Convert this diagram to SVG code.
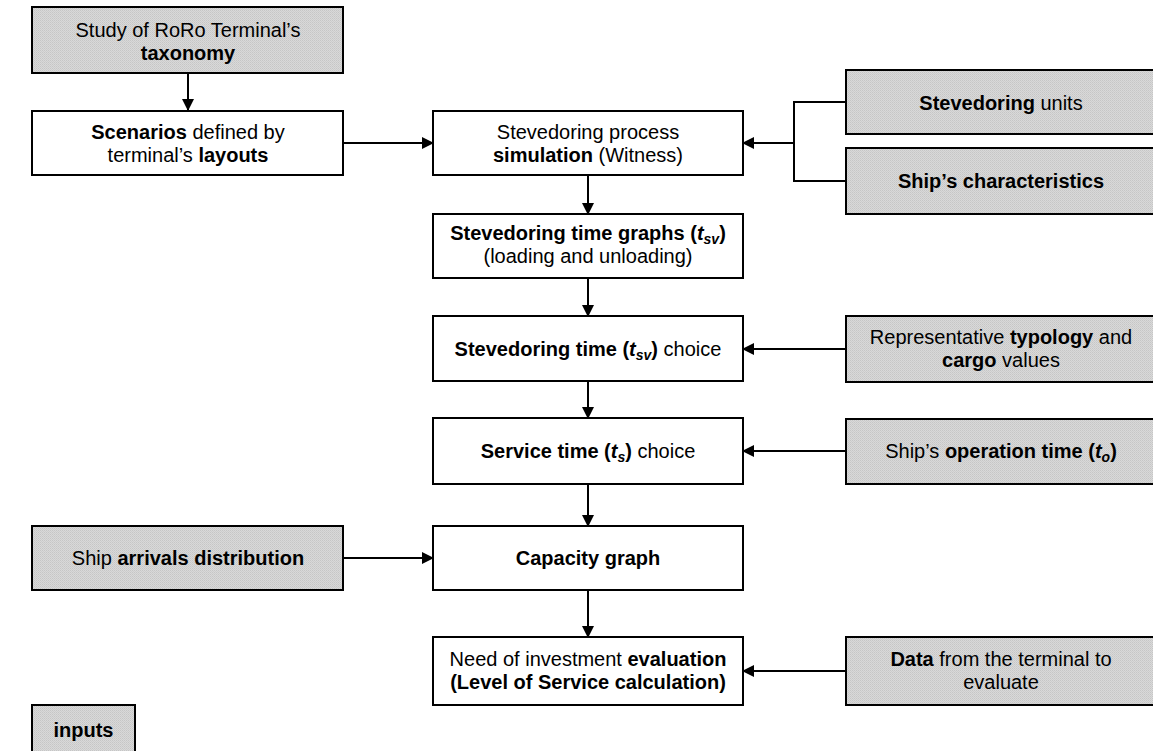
<svg xmlns="http://www.w3.org/2000/svg" width="1153" height="751" viewBox="0 0 1153 751">
  <defs>
    <!-- fine stipple used for the input boxes -->
    <pattern id="stipple" width="2" height="2" patternUnits="userSpaceOnUse">
      <rect width="2" height="2" fill="#d9d9d9"/>
      <rect width="1" height="1" fill="#c6c6c6"/>
      <rect x="1" y="1" width="1" height="1" fill="#cdcdcd"/>
    </pattern>
    <marker id="arrow" viewBox="0 0 12 12" refX="11" refY="6" markerWidth="12" markerHeight="12" markerUnits="userSpaceOnUse" orient="auto">
      <path d="M0,0 L12,6 L0,12 z" fill="#000"/>
    </marker>
  </defs>
  <style>
    .box { fill: #fff; stroke: #000; stroke-width: 2; }
    .input { fill: url(#stipple); stroke: #000; stroke-width: 2; }
    text { font-family: "Liberation Sans", Arial, sans-serif; font-size: 20px; fill: #000; text-anchor: middle; }
    .b { font-weight: bold; }
    .bi { font-weight: bold; font-style: italic; }
    .sub { font-weight: bold; font-style: italic; font-size: 14px; }
    .conn { fill: none; stroke: #000; stroke-width: 2; }
    .conn-arrow { fill: none; stroke: #000; stroke-width: 2; marker-end: url(#arrow); }
  </style>

  <rect width="1153" height="751" fill="#fff"/>

  <!-- connectors -->
  <g id="connectors">
    <line class="conn-arrow" x1="188" y1="73" x2="188" y2="110"/>
    <line class="conn-arrow" x1="343" y1="143" x2="433" y2="143"/>
    <polyline class="conn" points="846,102 794,102 794,181 846,181"/>
    <line class="conn-arrow" x1="794" y1="143" x2="743" y2="143"/>
    <line class="conn-arrow" x1="588" y1="175" x2="588" y2="214"/>
    <line class="conn-arrow" x1="588" y1="278" x2="588" y2="316"/>
    <line class="conn-arrow" x1="846" y1="349" x2="743" y2="349"/>
    <line class="conn-arrow" x1="588" y1="381" x2="588" y2="418"/>
    <line class="conn-arrow" x1="846" y1="451" x2="743" y2="451"/>
    <line class="conn-arrow" x1="588" y1="484" x2="588" y2="526"/>
    <line class="conn-arrow" x1="343" y1="558" x2="433" y2="558"/>
    <line class="conn-arrow" x1="588" y1="590" x2="588" y2="637"/>
    <line class="conn-arrow" x1="846" y1="671" x2="743" y2="671"/>
  </g>

  <g id="taxonomy">
    <rect class="input" x="32" y="7" width="311" height="66"/>
    <text x="188" y="36.5">Study of RoRo Terminal’s</text>
    <text x="188" y="60" class="b">taxonomy</text>
  </g>

  <g id="scenarios">
    <rect class="box" x="32" y="111" width="311" height="64"/>
    <text x="188" y="138.5"><tspan class="b">Scenarios</tspan> defined by</text>
    <text x="188" y="161.5">terminal’s <tspan class="b">layouts</tspan></text>
  </g>

  <g id="simulation">
    <rect class="box" x="433" y="111" width="310" height="64"/>
    <text x="588" y="138.5">Stevedoring process</text>
    <text x="588" y="161.5"><tspan class="b">simulation</tspan> (Witness)</text>
  </g>

  <g id="stevedoring-units">
    <rect class="input" x="846" y="70" width="312" height="64"/>
    <text x="1001" y="110"><tspan class="b">Stevedoring</tspan> units</text>
  </g>

  <g id="ship-characteristics">
    <rect class="input" x="846" y="148" width="312" height="66"/>
    <text x="1001" y="188" class="b">Ship’s characteristics</text>
  </g>

  <g id="time-graphs">
    <rect class="box" x="433" y="214" width="310" height="64"/>
    <text x="588" y="240" class="b">Stevedoring time graphs (<tspan class="bi">t</tspan><tspan class="sub" dy="4">sv</tspan><tspan dy="-4">)</tspan></text>
    <text x="588" y="263">(loading and unloading)</text>
  </g>

  <g id="time-choice">
    <rect class="box" x="433" y="316" width="310" height="65"/>
    <text x="588" y="355.5"><tspan class="b">Stevedoring time (</tspan><tspan class="bi">t</tspan><tspan class="sub" dy="4">sv</tspan><tspan class="b" dy="-4">)</tspan> choice</text>
  </g>

  <g id="typology">
    <rect class="input" x="846" y="316" width="312" height="66"/>
    <text x="1001" y="344"><tspan>Representative </tspan><tspan class="b">typology</tspan> and</text>
    <text x="1001" y="367"><tspan class="b">cargo</tspan> values</text>
  </g>

  <g id="service-time">
    <rect class="box" x="433" y="418" width="310" height="66"/>
    <text x="588" y="458"><tspan class="b">Service time (</tspan><tspan class="bi">t</tspan><tspan class="sub" dy="4">s</tspan><tspan class="b" dy="-4">)</tspan> choice</text>
  </g>

  <g id="operation-time">
    <rect class="input" x="846" y="419" width="312" height="65"/>
    <text x="1001" y="458">Ship’s <tspan class="b">operation time (</tspan><tspan class="bi">t</tspan><tspan class="sub" dy="4">o</tspan><tspan class="b" dy="-4">)</tspan></text>
  </g>

  <g id="arrivals">
    <rect class="input" x="32" y="526" width="311" height="64"/>
    <text x="188" y="565">Ship <tspan class="b">arrivals distribution</tspan></text>
  </g>

  <g id="capacity">
    <rect class="box" x="433" y="526" width="310" height="64"/>
    <text x="588" y="565" class="b">Capacity graph</text>
  </g>

  <g id="investment">
    <rect class="box" x="433" y="637" width="310" height="68"/>
    <text x="588" y="666">Need of investment <tspan class="b">evaluation</tspan></text>
    <text x="588" y="689" class="b">(Level of Service calculation)</text>
  </g>

  <g id="terminal-data">
    <rect class="input" x="846" y="637" width="312" height="68"/>
    <text x="1001" y="666"><tspan class="b">Data</tspan> from the terminal to</text>
    <text x="1001" y="689">evaluate</text>
  </g>

  <g id="legend-inputs">
    <rect class="input" x="32" y="705" width="103" height="60"/>
    <text x="83.5" y="737" class="b">inputs</text>
  </g>
</svg>
